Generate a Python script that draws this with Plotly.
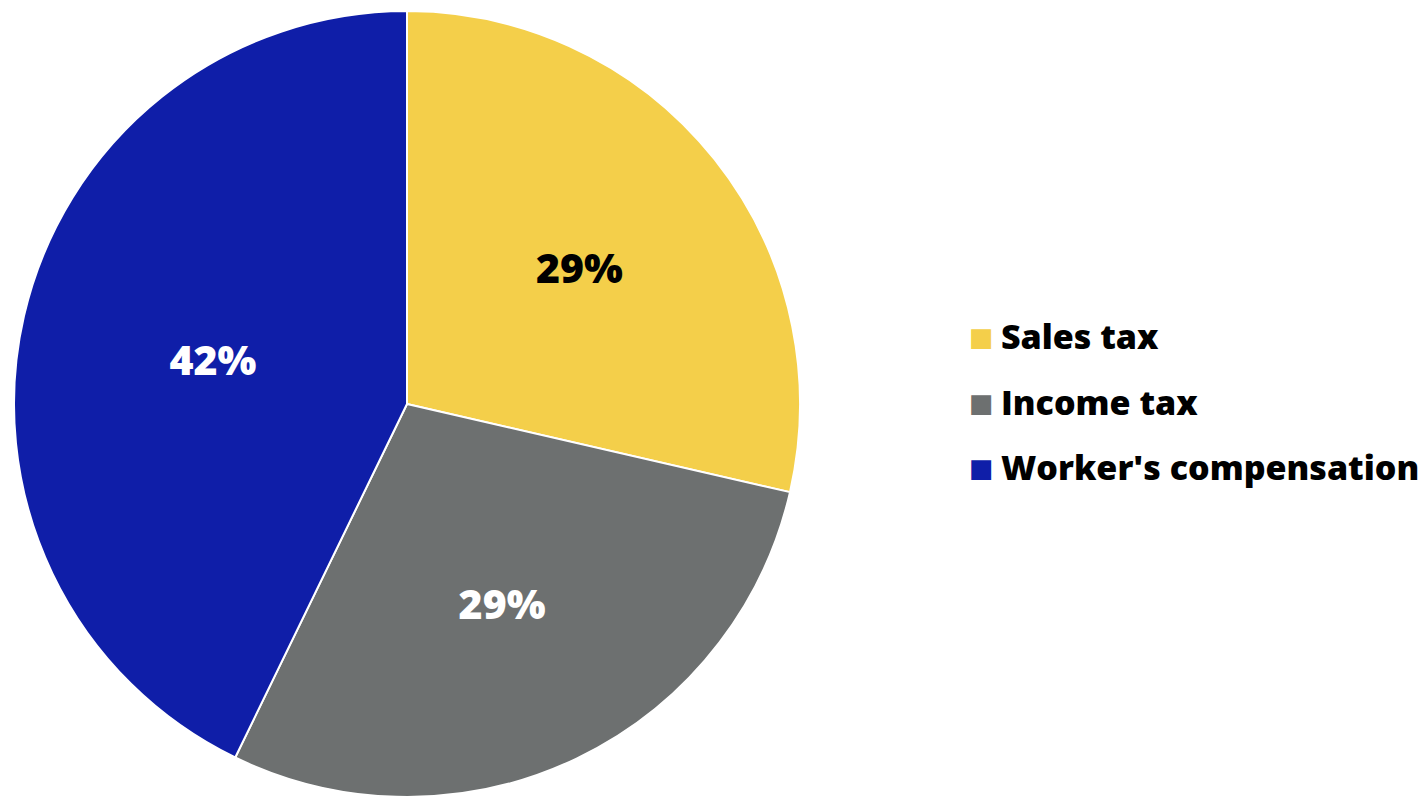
import plotly.graph_objects as go

# data
labels = ["Sales tax", "Income tax", "Worker's compensation"]
values = [28.6, 28.6, 42.8]
pct_text = ["29%", "29%", "42%"]
colors = ["#F4CF4A", "#6D7070", "#0F1EA8"]
text_colors = ["#000000", "#FFFFFF", "#FFFFFF"]

W, H = 1427, 799
FONT = "Open Sans"

fig = go.Figure()

fig.add_trace(go.Pie(
    labels=labels,
    values=values,
    text=pct_text,
    textinfo="text",
    textposition="inside",
    insidetextorientation="horizontal",
    sort=False,
    direction="clockwise",
    rotation=0,
    marker=dict(colors=colors, line=dict(color="white", width=2)),
    insidetextfont=dict(family=FONT, size=41, color=text_colors, weight=800),
    domain=dict(x=[6 / W, 792 / W], y=[10 / H, 796 / H]),
    showlegend=False,
    hoverinfo="label+percent",
))

# legend drawn as text so the spacing can follow the picture
legend_y = [329, 395, 460]
for lab, col, yy in zip(labels, colors, legend_y):
    fig.add_annotation(x=959 / W, y=1 - yy / H, xref="paper", yref="paper",
                       text="■", showarrow=False, xanchor="left", yanchor="middle",
                       font=dict(family="DejaVu Sans", size=26, color=col))
    fig.add_annotation(x=991 / W, y=1 - (yy - 1) / H, xref="paper", yref="paper",
                       text=lab, showarrow=False, xanchor="left", yanchor="middle",
                       font=dict(family=FONT, size=34, color="black", weight=800))

fig.update_layout(
    width=W, height=H,
    margin=dict(l=0, r=0, t=0, b=0),
    paper_bgcolor="white",
    plot_bgcolor="white",
)

fig.write_html("out.html")
